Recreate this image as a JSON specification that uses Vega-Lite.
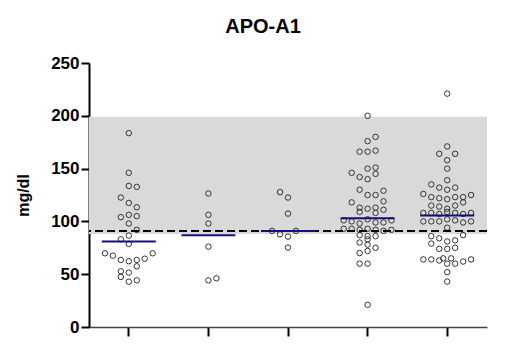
{
  "$schema": "https://vega.github.io/schema/vega-lite/v6.json",
  "width": 398,
  "height": 264,
  "autosize": "none",
  "padding": {"left": 89, "top": 63, "right": 22, "bottom": 22},
  "background": "white",
  "title": {"text": "APO-A1", "anchor": "middle", "frame": "group", "dx": -25, "fontSize": 20, "fontWeight": "bold", "font": "Liberation Sans", "color": "black", "offset": 17},
  "config": {"view": {"stroke": null}},
  "datasets": {
    "points": [
      {"group": "1", "slot": 0, "value": 183.6},
      {"group": "1", "slot": 0, "value": 146},
      {"group": "1", "slot": 0, "value": 133.6},
      {"group": "1", "slot": 1, "value": 132.7},
      {"group": "1", "slot": -1, "value": 122.6},
      {"group": "1", "slot": 0, "value": 117.5},
      {"group": "1", "slot": 1, "value": 113.4},
      {"group": "1", "slot": -1, "value": 104},
      {"group": "1", "slot": 0, "value": 106.2},
      {"group": "1", "slot": 1, "value": 105},
      {"group": "1", "slot": 0, "value": 98},
      {"group": "1", "slot": 1, "value": 92},
      {"group": "1", "slot": 0, "value": 86.6},
      {"group": "1", "slot": -1, "value": 83.1},
      {"group": "1", "slot": 0, "value": 78.7},
      {"group": "1", "slot": -3, "value": 69.8},
      {"group": "1", "slot": -2, "value": 67.6},
      {"group": "1", "slot": -1, "value": 63.5},
      {"group": "1", "slot": 0, "value": 62.3},
      {"group": "1", "slot": 1, "value": 63.5},
      {"group": "1", "slot": 2, "value": 64.7},
      {"group": "1", "slot": 3, "value": 69.8},
      {"group": "1", "slot": 1, "value": 57.5},
      {"group": "1", "slot": -1, "value": 52.8},
      {"group": "1", "slot": 0, "value": 51.5},
      {"group": "1", "slot": -1, "value": 47.4},
      {"group": "1", "slot": 0, "value": 42.9},
      {"group": "1", "slot": 1, "value": 44.2},
      {"group": "2", "slot": 0, "value": 126.4},
      {"group": "2", "slot": 0, "value": 106.2},
      {"group": "2", "slot": 0, "value": 98},
      {"group": "2", "slot": 0, "value": 76.1},
      {"group": "2", "slot": 0, "value": 44.2},
      {"group": "2", "slot": 1, "value": 46.1},
      {"group": "3", "slot": -1, "value": 127.7},
      {"group": "3", "slot": 0, "value": 122.6},
      {"group": "3", "slot": 0, "value": 107.4},
      {"group": "3", "slot": -2, "value": 91},
      {"group": "3", "slot": 1, "value": 91},
      {"group": "3", "slot": -1, "value": 87.8},
      {"group": "3", "slot": 0, "value": 85.6},
      {"group": "3", "slot": 0, "value": 75.2},
      {"group": "4", "slot": 0, "value": 200},
      {"group": "4", "slot": 1, "value": 180},
      {"group": "4", "slot": 0, "value": 176},
      {"group": "4", "slot": 1, "value": 167},
      {"group": "4", "slot": 0, "value": 166},
      {"group": "4", "slot": -1, "value": 166},
      {"group": "4", "slot": 1, "value": 151},
      {"group": "4", "slot": 0, "value": 150},
      {"group": "4", "slot": -2, "value": 146},
      {"group": "4", "slot": 1, "value": 145},
      {"group": "4", "slot": -1, "value": 142},
      {"group": "4", "slot": 0, "value": 140},
      {"group": "4", "slot": -1, "value": 130},
      {"group": "4", "slot": 2, "value": 129},
      {"group": "4", "slot": 0, "value": 125},
      {"group": "4", "slot": 1, "value": 125},
      {"group": "4", "slot": 2, "value": 119},
      {"group": "4", "slot": -2, "value": 118},
      {"group": "4", "slot": -1, "value": 113},
      {"group": "4", "slot": 1, "value": 113},
      {"group": "4", "slot": 0, "value": 112},
      {"group": "4", "slot": 2, "value": 111},
      {"group": "4", "slot": -1, "value": 109},
      {"group": "4", "slot": 1, "value": 108},
      {"group": "4", "slot": -3, "value": 101},
      {"group": "4", "slot": -2, "value": 100},
      {"group": "4", "slot": -1, "value": 98},
      {"group": "4", "slot": 0, "value": 102},
      {"group": "4", "slot": 1, "value": 99},
      {"group": "4", "slot": 2, "value": 99},
      {"group": "4", "slot": 3, "value": 101},
      {"group": "4", "slot": -3, "value": 93},
      {"group": "4", "slot": -2, "value": 93},
      {"group": "4", "slot": -1, "value": 92},
      {"group": "4", "slot": 0, "value": 93},
      {"group": "4", "slot": 1, "value": 92},
      {"group": "4", "slot": 2, "value": 91},
      {"group": "4", "slot": 3, "value": 92},
      {"group": "4", "slot": -1, "value": 87},
      {"group": "4", "slot": 0, "value": 86},
      {"group": "4", "slot": 0, "value": 83},
      {"group": "4", "slot": 1, "value": 86},
      {"group": "4", "slot": -1, "value": 80},
      {"group": "4", "slot": 0, "value": 78},
      {"group": "4", "slot": 1, "value": 75},
      {"group": "4", "slot": 0, "value": 72},
      {"group": "4", "slot": -1, "value": 70},
      {"group": "4", "slot": -1, "value": 60},
      {"group": "4", "slot": 0, "value": 60},
      {"group": "4", "slot": 0, "value": 21},
      {"group": "5", "slot": 0, "value": 221},
      {"group": "5", "slot": 0, "value": 171},
      {"group": "5", "slot": -1, "value": 164},
      {"group": "5", "slot": 1, "value": 164},
      {"group": "5", "slot": 0, "value": 158},
      {"group": "5", "slot": 0, "value": 150},
      {"group": "5", "slot": 0, "value": 139},
      {"group": "5", "slot": -2, "value": 135},
      {"group": "5", "slot": -1, "value": 132},
      {"group": "5", "slot": 0, "value": 130},
      {"group": "5", "slot": 1, "value": 132},
      {"group": "5", "slot": -3, "value": 126},
      {"group": "5", "slot": -2, "value": 123},
      {"group": "5", "slot": -1, "value": 122},
      {"group": "5", "slot": 0, "value": 121},
      {"group": "5", "slot": 1, "value": 123},
      {"group": "5", "slot": 2, "value": 123},
      {"group": "5", "slot": 3, "value": 125},
      {"group": "5", "slot": 2, "value": 118},
      {"group": "5", "slot": -2, "value": 115},
      {"group": "5", "slot": -1, "value": 114},
      {"group": "5", "slot": 0, "value": 112},
      {"group": "5", "slot": 1, "value": 115},
      {"group": "5", "slot": -3, "value": 108},
      {"group": "5", "slot": -2, "value": 108},
      {"group": "5", "slot": -1, "value": 107},
      {"group": "5", "slot": 0, "value": 109},
      {"group": "5", "slot": 1, "value": 108},
      {"group": "5", "slot": 2, "value": 107},
      {"group": "5", "slot": 3, "value": 108},
      {"group": "5", "slot": -3, "value": 100},
      {"group": "5", "slot": -2, "value": 100},
      {"group": "5", "slot": -1, "value": 100},
      {"group": "5", "slot": 0, "value": 102},
      {"group": "5", "slot": 1, "value": 101},
      {"group": "5", "slot": 2, "value": 99},
      {"group": "5", "slot": 3, "value": 100},
      {"group": "5", "slot": 0, "value": 94},
      {"group": "5", "slot": 2, "value": 87},
      {"group": "5", "slot": -2, "value": 86},
      {"group": "5", "slot": -1, "value": 84},
      {"group": "5", "slot": 0, "value": 81},
      {"group": "5", "slot": 1, "value": 82},
      {"group": "5", "slot": -2, "value": 79},
      {"group": "5", "slot": -1, "value": 74},
      {"group": "5", "slot": 0, "value": 74},
      {"group": "5", "slot": 1, "value": 75},
      {"group": "5", "slot": -3, "value": 64},
      {"group": "5", "slot": -2, "value": 64},
      {"group": "5", "slot": -1, "value": 63},
      {"group": "5", "slot": -0.5, "value": 65},
      {"group": "5", "slot": 0.5, "value": 65},
      {"group": "5", "slot": 0, "value": 60},
      {"group": "5", "slot": 1, "value": 60},
      {"group": "5", "slot": 2, "value": 62},
      {"group": "5", "slot": 3, "value": 64},
      {"group": "5", "slot": 0, "value": 52},
      {"group": "5", "slot": 0, "value": 43}
    ],
    "medians": [
      {"group": "1", "median": 81},
      {"group": "2", "median": 87},
      {"group": "3", "median": 91},
      {"group": "4", "median": 103},
      {"group": "5", "median": 105.5}
    ],
    "band": [{"low": 88, "high": 199}],
    "ref": [{"level": 91}]
  },
  "layer": [
    {
      "data": {"name": "band"},
      "mark": {"type": "rect", "color": "#d9d9d9"},
      "encoding": {
        "y": {"field": "low", "type": "quantitative", "scale": {"domain": [0, 250], "nice": false, "zero": true},
          "axis": {"values": [0, 50, 100, 150, 200, 250], "title": "mg/dl", "grid": false,
            "domainColor": "black", "domainWidth": 2, "tickColor": "black", "tickWidth": 2, "tickSize": 8,
            "labelFont": "Liberation Sans", "labelFontWeight": "bold", "labelFontSize": 17, "labelColor": "black", "labelPadding": 2,
            "titleFont": "Liberation Sans", "titleFontWeight": "bold", "titleFontSize": 16, "titleColor": "black",
            "titleAngle": -90, "titleX": -66, "titleY": 132, "titleAlign": "center", "titleBaseline": "middle"}},
        "y2": {"field": "high"}
      }
    },
    {
      "data": {"name": "points"},
      "mark": {"type": "point", "shape": "circle", "filled": false, "size": 30, "stroke": "#333333", "strokeWidth": 1, "opacity": 1},
      "encoding": {
        "x": {"field": "group", "type": "nominal", "scale": {"domain": ["1", "2", "3", "4", "5"], "paddingInner": 0, "paddingOuter": 0},
          "axis": {"title": null, "labels": false, "grid": false, "domainColor": "#444", "domainWidth": 1.5, "tickColor": "black", "tickWidth": 2, "tickSize": 9}},
        "xOffset": {"field": "slot", "type": "quantitative", "scale": {"domain": [-5, 5], "range": [0, 79.6]}},
        "y": {"field": "value", "type": "quantitative"}
      }
    },
    {
      "data": {"name": "ref"},
      "mark": {"type": "rule", "color": "black", "strokeWidth": 2, "strokeDash": [8, 4]},
      "encoding": {"y": {"field": "level", "type": "quantitative"}}
    },
    {
      "data": {"name": "medians"},
      "mark": {"type": "tick", "orient": "horizontal", "color": "#10107a", "opacity": 1, "size": 54, "thickness": 2},
      "encoding": {
        "x": {"field": "group", "type": "nominal"},
        "y": {"field": "median", "type": "quantitative"}
      }
    }
  ]
}
